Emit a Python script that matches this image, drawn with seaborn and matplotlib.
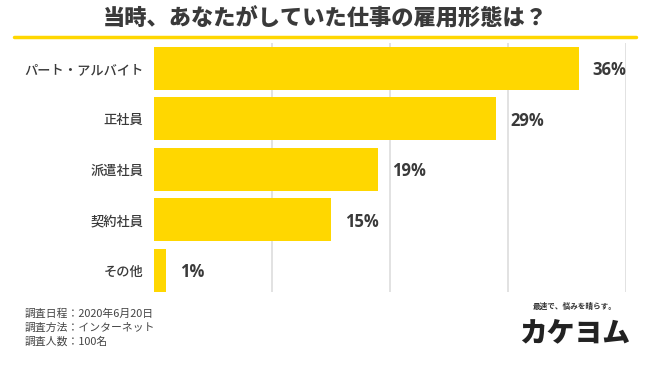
import matplotlib
matplotlib.use("Agg")
import matplotlib.pyplot as plt
import seaborn as sns
import pandas as pd

categories = ["パート・アルバイト", "正社員", "派遣社員", "契約社員", "その他"]
values = [36, 29, 19, 15, 1]
title = "当時、あなたがしていた仕事の雇用形態は？"
notes = ["調査日程：2020年6月20日", "調査方法：インターネット", "調査人数：100名"]

sns.set_theme(style="white")
plt.rcParams['font.family'] = ['Noto Sans CJK JP', 'DejaVu Sans']

df = pd.DataFrame({"cat": categories, "val": values})

fig = plt.figure(figsize=(6.5, 3.65), dpi=100)
ax = fig.add_axes([154/650, 1-292/365, (626-154)/650, (292-43)/365])

sns.barplot(data=df, x="val", y="cat", orient="h", color="#FFD700",
            saturation=1, width=0.86, ax=ax, edgecolor="none")

ax.set_xlim(0, 40)
ax.set_ylim(4.43, -0.5)
ax.set_xticks([10, 20, 30, 40])
ax.xaxis.grid(True, color="#dddddd", linewidth=1.2)
ax.set_axisbelow(True)
ax.set_xticklabels([])
ax.tick_params(axis="x", length=0)
ax.tick_params(axis="y", length=0, pad=7.5, labelsize=9.5, labelcolor="#3a3a3a")
for lab in ax.get_yticklabels():
    lab.set_fontweight("medium")
ax.set_xlabel("")
ax.set_ylabel("")
for s in ax.spines.values():
    s.set_visible(False)

for i, v in enumerate(values):
    ax.annotate(f"{v}%", xy=(v, i), xytext=(10, -1.5), textcoords="offset points",
                ha="left", va="center", fontsize=12, fontweight="bold",
                color="#3a3a3a", family=["Open Sans", "DejaVu Sans"])

fig.text(0.5, 1-19/365, title, ha="center", va="center", fontsize=16,
         fontweight="heavy", color="#3a3a3a")
fig.add_artist(plt.Line2D([14/650, 636/650], [1-37/365, 1-37/365],
                          color="#FFD700", linewidth=2.5))

for j, t in enumerate(notes):
    fig.text(25/650, 1-(314+13.5*j)/365, t, ha="left", va="center",
             fontsize=7.8, color="#444444")

fig.text(575/650, 1-306/365, "最速で、悩みを晴らす。", ha="center", va="center",
         fontsize=5.5, fontweight="bold", color="#333333")
fig.text(575/650, 1-333/365, "カケヨム", ha="center", va="center",
         fontsize=20, fontweight="heavy", color="#222222")

fig.savefig("out.png", dpi=100)
